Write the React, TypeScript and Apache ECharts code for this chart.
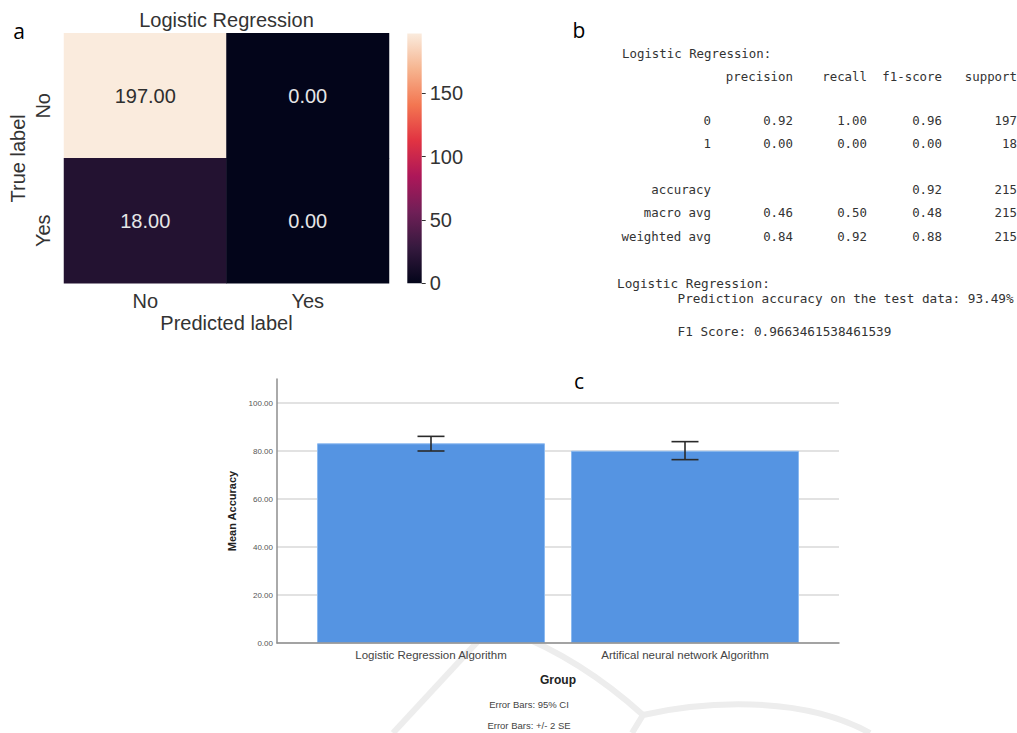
import React, { useEffect, useRef } from 'react';
import * as echarts from 'echarts';

// ---------- Panel a: confusion matrix ----------
const cmTrueLabels = ['No', 'Yes'];
const cmPredLabels = ['No', 'Yes'];
const cmValues = [
  [197, 0],
  [18, 0],
];
const cbTicks = [0, 50, 100, 150];
const rocket = ['#03051a', '#35193e', '#701f57', '#ad1759', '#e13342', '#f37651', '#f6b48f', '#faebdd'];

// ---------- Panel b: classification report ----------
const reportTitle = 'Logistic Regression:';
const reportCols = ['precision', 'recall', 'f1-score', 'support'];
const reportRows = ['0', '1', 'accuracy', 'macro avg', 'weighted avg'];
const precisionVals = [0.92, 0.0, null, 0.46, 0.84];
const recallVals = [1.0, 0.0, null, 0.5, 0.92];
const f1Vals = [0.96, 0.0, 0.92, 0.48, 0.88];
const supportVals = [197, 18, 215, 215, 215];
const predAccuracy = '93.49%';
const f1Score = '0.9663461538461539';

// ---------- Panel c: mean accuracy ----------
const groups = ['Logistic Regression Algorithm', 'Artifical neural network Algorithm'];
const meanAccuracy = [83.2, 80.1];
const ciLow = [80.0, 76.4];
const ciHigh = [86.1, 83.9];
const errorNotes = ['Error Bars: 95% CI', 'Error Bars: +/- 2 SE'];

const SANS = '"Liberation Sans", Arial, sans-serif';
const MONO = '"DejaVu Sans Mono", monospace';
const PANEL = '"Open Sans", "Noto Sans", sans-serif';
const FS_A = 20;

function txt(text: string, x: number, y: number, o: any = {}) {
  const align = o.align || 'left';
  return {
    type: 'text',
    x,
    y,
    z: 10,
    rotation: o.rotation || 0,
    style: {
      text,
      fill: o.fill || '#333',
      fontSize: o.fontSize || 12,
      fontFamily: o.fontFamily || SANS,
      fontWeight: o.fontWeight || 'normal',
      align,
      textAlign: align,
      verticalAlign: 'middle',
      textVerticalAlign: 'middle',
    },
  };
}

export default function App() {
  const ref = useRef<HTMLDivElement>(null);

  useEffect(() => {
    if (!ref.current) return;
    const chart = echarts.init(ref.current, null, { renderer: 'svg' });

    const cmMax = Math.max(...cmValues.flat());
    const heatData: any[] = [];
    cmValues.forEach((row, r) =>
      row.forEach((v, c) => {
        heatData.push({
          value: [c, r, v],
          label: { color: v > cmMax / 2 ? '#2e2e2e' : '#e6e6e6' },
        });
      })
    );

    const gradStops = rocket.map((color, i) => ({ offset: i / (rocket.length - 1), color }));

    // report text
    const fmt = (v: number | null) => (v === null ? '' : v.toFixed(2));
    const colRight = [793, 867, 942, 1017];
    const rowLabelRight = 711;
    const rowYs = [120, 143.5, 189, 212.5, 236];
    const fsT = 12.4;
    const report: any[] = [];
    report.push(txt(reportTitle, 622, 53, { fontFamily: MONO, fontSize: fsT }));
    reportCols.forEach((c, i) =>
      report.push(txt(c, colRight[i], 76.7, { fontFamily: MONO, fontSize: fsT, align: 'right' }))
    );
    reportRows.forEach((r, i) => {
      const y = rowYs[i];
      report.push(txt(r, rowLabelRight, y, { fontFamily: MONO, fontSize: fsT, align: 'right' }));
      const vals = [fmt(precisionVals[i]), fmt(recallVals[i]), fmt(f1Vals[i]), String(supportVals[i])];
      vals.forEach((v, j) => {
        if (v) report.push(txt(v, colRight[j], y, { fontFamily: MONO, fontSize: fsT, align: 'right' }));
      });
    });
    report.push(txt(reportTitle, 617, 283, { fontFamily: MONO, fontSize: 12.7 }));
    report.push(
      txt('Prediction accuracy on the test data: ' + predAccuracy, 677.5, 298, { fontFamily: MONO, fontSize: 12.7 })
    );
    report.push(txt('F1 Score: ' + f1Score, 677.5, 331, { fontFamily: MONO, fontSize: 12.7 }));

    const wm = { stroke: '#ededed', lineWidth: 6, fill: null };
    const watermark: any[] = [
      { type: 'line', z: -5, shape: { x1: 393, y1: 733, x2: 493, y2: 625 }, style: wm },
      { type: 'bezierCurve', z: -5, shape: { x1: 493, y1: 625, cpx1: 560, cpy1: 648, cpx2: 610, cpy2: 685, x2: 643, y2: 715 }, style: wm },
      { type: 'line', z: -5, shape: { x1: 643, y1: 715, x2: 632, y2: 733 }, style: wm },
      { type: 'bezierCurve', z: -5, shape: { x1: 643, y1: 715, cpx1: 700, cpy1: 702, cpx2: 800, cpy2: 694, x2: 870, y2: 733 }, style: wm },
    ];

    const option: any = {
      animation: false,
      backgroundColor: '#ffffff',
      textStyle: { fontFamily: SANS },
      grid: [
        { left: 64, top: 33.3, width: 325, height: 250, outerBoundsMode: 'none' },
        { left: 407.3, top: 33.6, width: 14.4, height: 249.7, outerBoundsMode: 'none' },
        { left: 277, top: 403, width: 562, height: 240, outerBoundsMode: 'none' },
        { left: 304, top: 379, width: 508, height: 264, outerBoundsMode: 'none' },
      ],
      xAxis: [
        {
          gridIndex: 0,
          type: 'category',
          data: cmPredLabels,
          axisLine: { show: false },
          axisTick: { show: false },
          axisLabel: { fontSize: FS_A, color: '#333', margin: 8, fontFamily: SANS },
          name: 'Predicted label',
          nameLocation: 'middle',
          nameGap: 29.5,
          nameTextStyle: { fontSize: FS_A, color: '#333', fontFamily: SANS },
        },
        {
          gridIndex: 1,
          type: 'category',
          data: [''],
          show: false,
        },
        {
          gridIndex: 2,
          type: 'value',
          min: 0,
          max: 1,
          z: 3,
          axisLine: { show: true, lineStyle: { color: '#8e8e8e', width: 1.5 } },
          axisTick: { show: false },
          axisLabel: { show: false },
          splitLine: { show: false },
        },
        {
          gridIndex: 3,
          type: 'category',
          data: groups,
          axisLine: { show: false },
          axisTick: { show: false },
          axisLabel: { fontSize: 11.5, color: '#444', margin: 6, fontFamily: SANS },
          name: 'Group',
          nameLocation: 'middle',
          nameGap: 31,
          nameTextStyle: { fontSize: 12, fontWeight: 'bold', color: '#222', fontFamily: SANS },
        },
      ],
      yAxis: [
        {
          gridIndex: 0,
          type: 'category',
          data: cmTrueLabels,
          inverse: true,
          axisLine: { show: false },
          axisTick: { show: false },
          axisLabel: { fontSize: FS_A, color: '#333', rotate: 90, margin: 11, padding: [0, 20, 0, 0], fontFamily: SANS },
          name: 'True label',
          nameLocation: 'middle',
          nameGap: 36,
          nameTextStyle: { fontSize: FS_A, color: '#333', fontFamily: SANS },
        },
        {
          gridIndex: 1,
          type: 'value',
          position: 'right',
          min: 0,
          max: cmMax,
          axisLine: { show: false },
          axisTick: { show: true, length: 4, customValues: cbTicks, lineStyle: { color: '#333', width: 1 } },
          axisLabel: { customValues: cbTicks, fontSize: FS_A, color: '#333', margin: 8, fontFamily: SANS },
          splitLine: { show: false },
        },
        {
          gridIndex: 2,
          type: 'value',
          min: 0,
          max: 100,
          interval: 20,
          axisLine: { show: false },
          axisTick: { show: false },
          axisLabel: { fontSize: 8, color: '#555', margin: 4, formatter: (v: number) => v.toFixed(2), fontFamily: SANS },
          splitLine: { show: true, lineStyle: { color: '#e2e2e2', width: 2 } },
        },
        {
          gridIndex: 3,
          type: 'value',
          min: 0,
          max: 110,
          offset: 27,
          axisLine: { show: true, lineStyle: { color: '#8e8e8e', width: 1.5 } },
          axisTick: { show: false },
          axisLabel: { show: false },
          splitLine: { show: false },
          name: 'Mean Accuracy',
          nameLocation: 'middle',
          nameGap: 40,
          nameTextStyle: { fontSize: 11, fontWeight: 'bold', color: '#222', fontFamily: SANS },
        },
      ],
      visualMap: {
        type: 'continuous',
        show: false,
        min: 0,
        max: cmMax,
        seriesIndex: 0,
        dimension: 2,
        inRange: { color: rocket },
      },
      series: [
        {
          type: 'heatmap',
          xAxisIndex: 0,
          yAxisIndex: 0,
          data: heatData,
          label: {
            show: true,
            fontSize: FS_A,
            fontFamily: SANS,
            formatter: (p: any) => Number(p.value[2]).toFixed(2),
          },
          emphasis: { disabled: true },
        },
        {
          type: 'bar',
          xAxisIndex: 1,
          yAxisIndex: 1,
          data: [cmMax],
          barWidth: '100%',
          itemStyle: { color: new echarts.graphic.LinearGradient(0, 1, 0, 0, gradStops) },
          silent: true,
        },
        {
          type: 'bar',
          xAxisIndex: 3,
          yAxisIndex: 3,
          data: meanAccuracy,
          barWidth: 228,
          itemStyle: { color: '#5594e2', borderColor: '#8cbaf0', borderWidth: 1 },
        },
        {
          type: 'custom',
          xAxisIndex: 3,
          yAxisIndex: 3,
          z: 5,
          data: groups.map((_, i) => [i, ciLow[i], ciHigh[i]]),
          encode: { x: 0, y: [1, 2] },
          renderItem: (params: any, api: any) => {
            const x = api.value(0);
            const lo = api.coord([x, api.value(1)]);
            const hi = api.coord([x, api.value(2)]);
            const hw = 13.5;
            const style = { stroke: '#2a2a2a', lineWidth: 1.6 };
            return {
              type: 'group',
              children: [
                { type: 'line', shape: { x1: lo[0], y1: lo[1], x2: hi[0], y2: hi[1] }, style },
                { type: 'line', shape: { x1: lo[0] - hw, y1: lo[1], x2: lo[0] + hw, y2: lo[1] }, style },
                { type: 'line', shape: { x1: hi[0] - hw, y1: hi[1], x2: hi[0] + hw, y2: hi[1] }, style },
              ],
            };
          },
        },
      ],
      graphic: [
        ...watermark,
        txt('Logistic Regression', 226.5, 20, { fontSize: FS_A, align: 'center' }),
        txt('a', 19, 31, { fontSize: 21, fontFamily: PANEL, fill: '#000', align: 'center' }),
        txt('b', 579, 30, { fontSize: 21, fontFamily: PANEL, fill: '#000', align: 'center' }),
        txt('c', 579, 381, { fontSize: 21, fontFamily: PANEL, fill: '#000', align: 'center' }),
        ...report,
        txt(errorNotes[0], 529, 704, { fontSize: 9.5, fill: '#444', align: 'center' }),
        txt(errorNotes[1], 529, 725, { fontSize: 9.5, fill: '#444', align: 'center' }),
      ],
    };

    chart.setOption(option);
    return () => chart.dispose();
  }, []);

  return (
    <div
      ref={ref}
      style={{ position: 'absolute', left: 0, top: 0, width: 1017, height: 733, background: '#fff' }}
    />
  );
}
